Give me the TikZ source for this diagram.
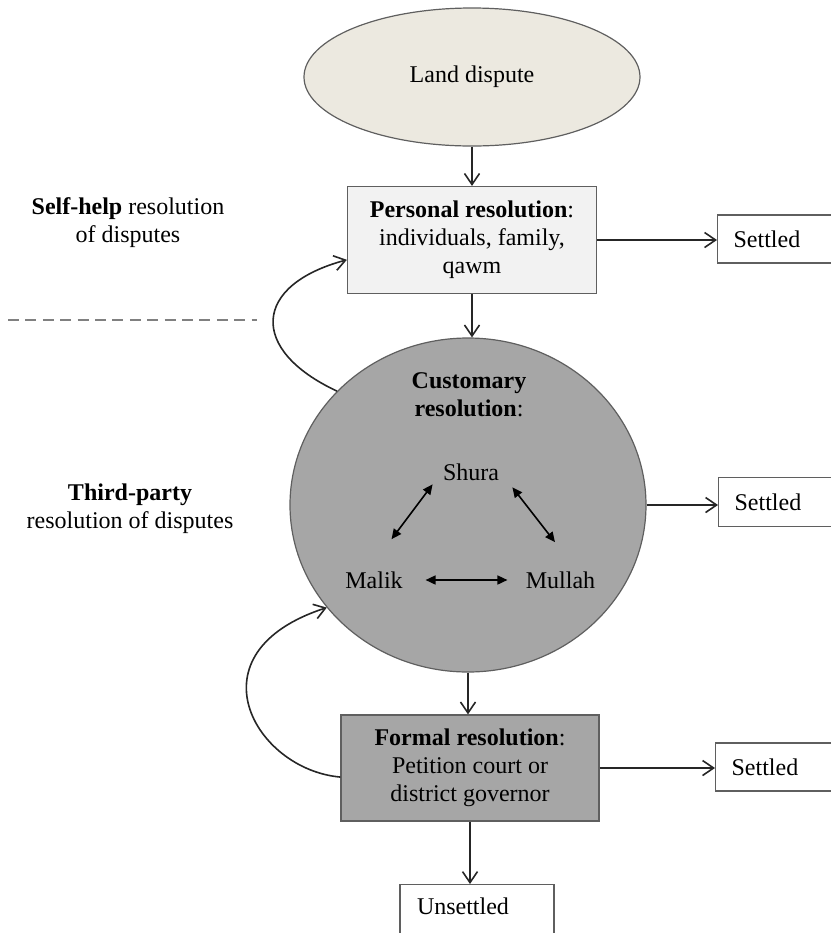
\documentclass[tikz,border=0pt]{standalone}
\usepackage{fontspec}
\setmainfont{Liberation Serif}
\usetikzlibrary{arrows.meta,shapes.geometric,calc}
\definecolor{sand}{RGB}{236,233,224}
\definecolor{paleGray}{RGB}{242,242,242}
\definecolor{midGray}{RGB}{166,166,166}
\definecolor{rim}{RGB}{95,95,95}
\tikzstyle{stage}=[
	rectangle,
	draw=rim,
	line width=0.6pt,
	align=center
]
\tikzstyle{bubble}=[
	ellipse,
	draw=rim,
	line width=0.6pt,
	inner sep=0pt
]
\tikzstyle{outcome}=[
	rectangle,
	draw=rim,
	line width=0.6pt,
	fill=white,
	align=left,
	inner xsep=8pt,
	text width=49pt,
	minimum height=24pt,
	anchor=west
]
\tikzstyle{actor}=[
	inner sep=0pt
]
\tikzstyle{flow}=[
	-{Straight Barb[length=5.5pt,width=7.5pt]},
	line width=0.8pt,
	draw=black!85
]
\tikzstyle{mutual}=[
	{Triangle[length=5pt,width=4.5pt]}-{Triangle[length=5pt,width=4.5pt]},
	line width=0.8pt
]
\tikzstyle{divider}=[
	draw=gray,
	line width=0.6pt,
	dash pattern=on 5.5pt off 3.2pt
]

\begin{document}
\fontsize{12pt}{14pt}\selectfont
\begin{tikzpicture}[x=0.5pt,y=0.5pt]
\clip (0,0) rectangle (831,-933);
% main column
\node [bubble,fill=sand,minimum width=168pt,minimum height=69pt] (land) at (472,-77) {Land dispute};
\node [stage,fill=paleGray,minimum width=124.5pt,minimum height=53.5pt] (personal) at (472,-240) {\textbf{Personal resolution}:\\individuals, family,\\qawm};
\node [bubble,fill=midGray,minimum width=178pt,minimum height=167pt] (cust) at (468,-505) {};
\node [stage,fill=midGray,minimum width=129pt,minimum height=53pt] (formal) at (470,-768) {\textbf{Formal resolution}:\\Petition court or\\district governor};
\node [outcome,anchor=north,text width=60pt,inner xsep=8.5pt,inner ysep=6.8pt,text depth=8pt,minimum height=0pt] (unsettled) at (477,-884) {Unsettled};
% inside the customary circle
\node [align=center] (custTitle) at (469,-395) {\textbf{Customary}\\\textbf{resolution}:};
\node [actor] (shura) at (471,-472.5) {Shura};
\node [actor] (malik) at (374,-580) {Malik};
\node [actor] (mullah) at (560.5,-580) {Mullah};
% outcomes
\node [outcome] (settledA) at (717,-239) {Settled};
\node [outcome,minimum height=24.5pt] (settledB) at (718,-502) {Settled};
\node [outcome] (settledC) at (715,-767) {Settled};
% side labels
\node [align=center] (selfHelp) at (128,-223) {\textbf{Self-help} resolution\\of disputes};
\node [align=center] (thirdParty) at (130,-509) {\textbf{Third-party}\\resolution of disputes};
\draw [divider] (8,-320) -- (257,-320);

\draw [flow] (land.south) -- (land.south |- personal.north);
\draw [flow] (personal.south) -- (personal.south |- cust.north);
\draw [flow] (cust.south) -- (cust.south |- formal.north);
\draw [flow] (formal.south) -- (formal.south |- unsettled.north);
\draw [flow] (personal.east) -- (personal.east -| settledA.west);
\draw [flow] (cust.east) -- (cust.east -| settledB.west);
\draw [flow] (formal.east) -- (formal.east -| settledC.west);
% loops back up
\draw [flow] (cust.139) to[out=155,in=195,looseness=1.9] (personal.189);
\draw [flow] (formal.184) to[out=175,in=198,out looseness=1.3,in looseness=2.2] (cust.216);
% shura, malik, mullah
\draw [mutual] ($(shura.south west)+(-10,-3)$) -- ($(malik.north east)+(-11.5,32)$);
\draw [mutual] ($(shura.south east)+(13,-6)$) -- ($(mullah.north)+(-5.5,29)$);
\draw [mutual,shorten <=11.25pt,shorten >=9pt] (malik) -- (mullah);
\end{tikzpicture}
\end{document}
